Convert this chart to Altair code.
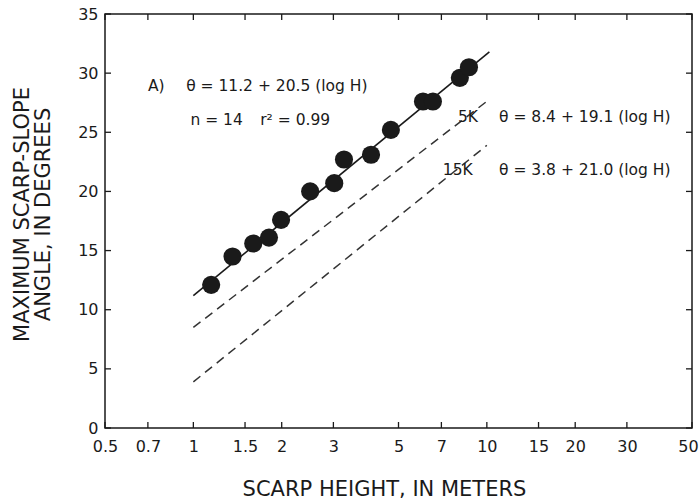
import altair as alt
import pandas as pd

FONT = "DejaVu Sans"
INK = "#1a1a1a"

# Scarp data
height_m = [1.15, 1.36, 1.60, 1.81, 1.99, 2.50, 3.02, 3.26, 4.03, 4.71, 6.06, 6.55, 8.09, 8.69]
slope_deg = [12.1, 14.5, 15.6, 16.1, 17.6, 20.0, 20.7, 22.7, 23.1, 25.2, 27.6, 27.6, 29.6, 30.5]

# Regression line and reference lines (end points)
fit_h = [1.0, 10.2]
fit_a = [11.2, 31.8]
k5_h = [1.0, 10.1]
k5_a = [8.5, 27.7]
k15_h = [1.0, 10.0]
k15_a = [3.9, 23.9]

x_ticks = [0.5, 0.7, 1, 1.5, 2, 3, 5, 7, 10, 15, 20, 30, 50]
y_ticks = [0, 5, 10, 15, 20, 25, 30, 35]

note_text = ["A)", "θ = 11.2 + 20.5  (log H)", "n = 14", "r² = 0.99",
             "5K", "θ = 8.4 + 19.1  (log H)", "15K", "θ = 3.8 + 21.0  (log H)"]
note_h = [0.70, 0.945, 0.977, 1.69, 7.97, 11.0, 7.08, 11.0]
note_a = [28.9, 28.9, 26.0, 26.0, 26.3, 26.3, 21.8, 21.8]

W, H = 587, 414

pts = pd.DataFrame({"H": height_m, "A": slope_deg})
fit = pd.DataFrame({"H": fit_h, "A": fit_a})
k5 = pd.DataFrame({"H": k5_h, "A": k5_a})
k15 = pd.DataFrame({"H": k15_h, "A": k15_a})
notes = pd.DataFrame({"H": note_h, "A": note_a, "t": note_text})
xt = pd.DataFrame({"H": x_ticks})
yt = pd.DataFrame({"A": y_ticks})

xscale = alt.Scale(type="log", domain=[0.5, 50], nice=False)
yscale = alt.Scale(domain=[0, 35], nice=False)

xaxis = alt.Axis(values=x_ticks, format="~g", title="SCARP HEIGHT, IN METERS",
                 ticks=False, domain=False, grid=False, labelPadding=10,
                 labelFontSize=16, labelFont=FONT, labelColor=INK,
                 labelOffset={"condition": {"test": "datum.value == 50", "value": -4}, "value": 0},
                 titleFont=FONT, titleFontSize=21, titleFontWeight="normal",
                 titleColor=INK, titleX=279, titleY=61, titleBaseline="middle",
                 labelFlush=False)
yaxis = alt.Axis(values=y_ticks, title=["MAXIMUM SCARP-SLOPE", "ANGLE, IN DEGREES"],
                 ticks=False, domain=False, grid=False, labelPadding=7,
                 labelFontSize=16, labelFont=FONT, labelColor=INK,
                 titleFont=FONT, titleFontSize=21, titleFontWeight="normal",
                 titleColor=INK, titleAngle=-90, titleX=-83, titleY=200,
                 titleBaseline="middle", titleAlign="center", titleLineHeight=21,
                 labelFlush=False)

X = alt.X("H:Q", scale=xscale, axis=xaxis)
Y = alt.Y("A:Q", scale=yscale, axis=yaxis)

points = alt.Chart(pts).mark_circle(size=330, color=INK, opacity=1).encode(x=X, y=Y)
fit_line = alt.Chart(fit).mark_line(color=INK, strokeWidth=1.6).encode(x=X, y=Y)
k5_line = alt.Chart(k5).mark_line(color="#333333", strokeWidth=1.5,
                                  strokeDash=[9, 6]).encode(x=X, y=Y)
k15_line = alt.Chart(k15).mark_line(color="#333333", strokeWidth=1.5,
                                    strokeDash=[9, 6]).encode(x=X, y=Y)
text = alt.Chart(notes).mark_text(align="left", baseline="middle", font=FONT,
                                  fontSize=15.5, color=INK).encode(x=X, y=Y, text="t:N")

tick_len = 6
bx = alt.Chart(xt).mark_rule(color=INK, strokeWidth=1.3).encode(
    x=X, y=alt.value(H), y2=alt.value(H - tick_len))
tx = alt.Chart(xt).mark_rule(color=INK, strokeWidth=1.3).encode(
    x=X, y=alt.value(0), y2=alt.value(tick_len))
ly = alt.Chart(yt).mark_rule(color=INK, strokeWidth=1.3).encode(
    y=Y, x=alt.value(0), x2=alt.value(tick_len))
ry = alt.Chart(yt).mark_rule(color=INK, strokeWidth=1.3).encode(
    y=Y, x=alt.value(W), x2=alt.value(W - tick_len))

chart = alt.layer(bx, tx, ly, ry, k15_line, k5_line, fit_line, points, text).properties(
    width=W, height=H,
    autosize=alt.AutoSizeParams(type="none"),
    padding={"left": 105, "top": 14, "right": 8, "bottom": 72},
    background="white",
).configure_view(stroke=INK, strokeWidth=1.5)

chart.save("out.html", embed_options={"renderer": "svg", "actions": False})
